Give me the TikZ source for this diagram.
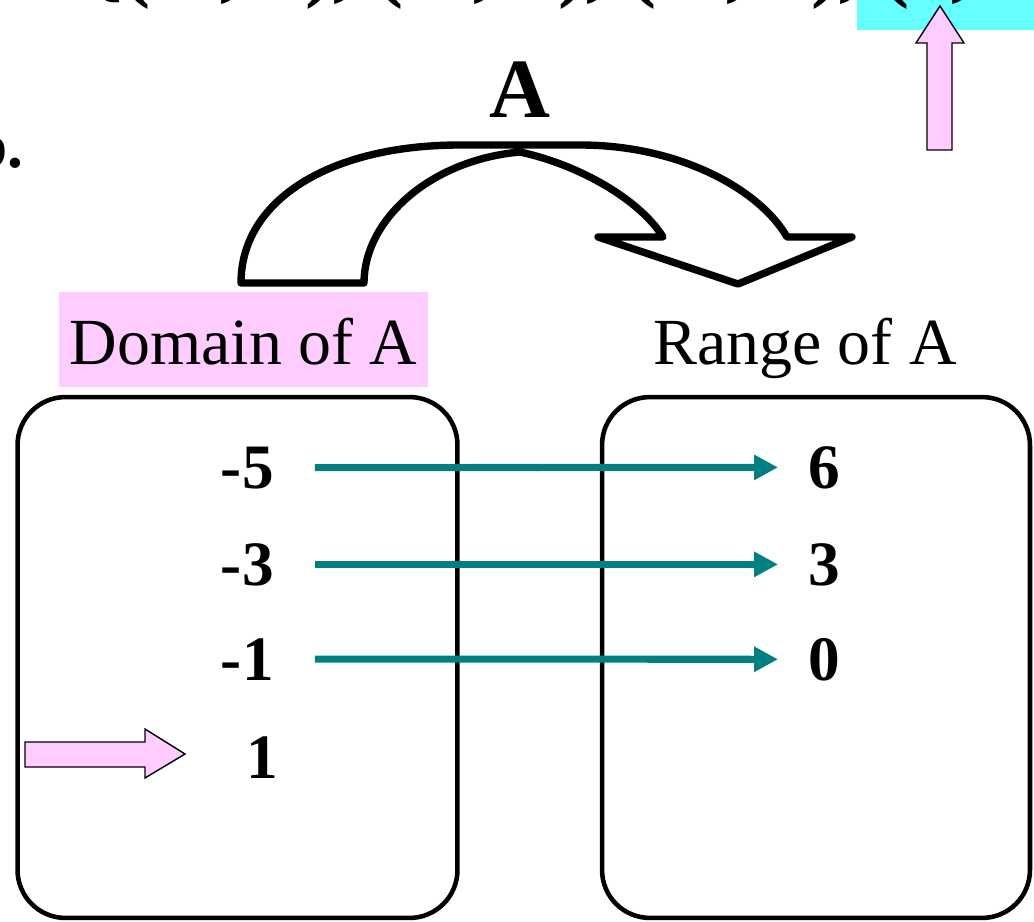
\documentclass[tikz,border=0pt]{standalone}
\usepackage{fontspec}
\setmainfont{Liberation Serif}
\usetikzlibrary{positioning, arrows.meta}
\definecolor{mapteal}{HTML}{008080}
\definecolor{lilac}{HTML}{FFCCFF}
\definecolor{aqua}{HTML}{66FFFF}
\tikzset{
  setbox/.style={draw, line width=2.6pt, rounded corners=0.96cm, minimum width=#1, minimum height=10.42cm},
  num/.style={font=\fontsize{36}{43}\selectfont\bfseries, inner sep=0pt},
  setlabel/.style={font=\fontsize{37.5}{45}\selectfont, inner sep=0pt, minimum height=1.9cm, text height=0.98cm, text depth=0pt},
  maparrow/.style={draw=mapteal, line width=4pt, -{Triangle[length=0.48cm, width=0.48cm]}, shorten <=0.82cm, shorten >=0.6cm},
  hint/.style={draw, fill=lilac, line width=0.8pt},
}

\begin{document}
\begin{tikzpicture}[x=0.02cm, y=-0.02cm]
\useasboundingbox (0,0) rectangle (1034,922);

% clipped line above
\fill[aqua] (857,-20) rectangle (1040,30);
\node[font=\fontsize{48}{58}\selectfont\bfseries, inner sep=0pt, anchor=base west] (pairs) at (89,-8) {\{(-5, 6), (-3, 3), (-1, 0), (1,};
\node[font=\fontsize{36}{43}\selectfont\bfseries, inner sep=0pt, anchor=base east] (partlabel) at (24,168) {b.};

% the two sets
\node[setbox=8.8cm] (dombox) at (237.5,657.5) {};
\node[setbox=8.56cm] (ranbox) at (816,657.5) {};
\node[setlabel, fill=lilac, minimum width=7.38cm, above=0.14cm of dombox, xshift=0.12cm] (domlabel) {Domain of A};
\node[setlabel, above=0.14cm of ranbox, xshift=-0.22cm] (ranlabel) {Range of A};

% curved arrow
\draw[line width=4.2pt, line join=round] (364,283) -- (241,283)
  .. controls (241,200) and (330,145) .. (460,145) -- (580,145)
  .. controls (680,145) and (760,190) .. (787,237)
  -- (852,237) -- (738,284) -- (598,237) -- (663,237)
  .. controls (640,200) and (580,165) .. (520,152)
  .. controls (430,160) and (364,220) .. (364,283) -- cycle;
\node[font=\fontsize{48}{58}\selectfont\bfseries, inner sep=0pt, anchor=base] (maplabel) at (520,118) {A};

% elements
\node[num, anchor=base east] (m5) at (274,488) {-5};
\node[num, anchor=base east] (m3) at (274,585) {-3};
\node[num, anchor=base east] (m1) at (274,680) {-1};
\node[num, anchor=base east] (p1) at (278,778) {1};
\node[num, anchor=base west] (r6) at (808,488) {6};
\node[num, anchor=base west] (r3) at (808,585) {3};
\node[num, anchor=base west] (r0) at (808,680) {0};

\draw[maparrow] (m5) -- (r6);
\draw[maparrow] (m3) -- (r3);
\draw[maparrow] (m1) -- (r0);

% pointers
\draw[hint] (927,150) -- (927,43) -- (916,43) -- (940,6) -- (964,43) -- (952,43) -- (952,150) -- cycle;
\draw[hint] (25,742) -- (145,742) -- (145,729) -- (185,754) -- (145,778) -- (145,767) -- (25,767) -- cycle;
\end{tikzpicture}
\end{document}
